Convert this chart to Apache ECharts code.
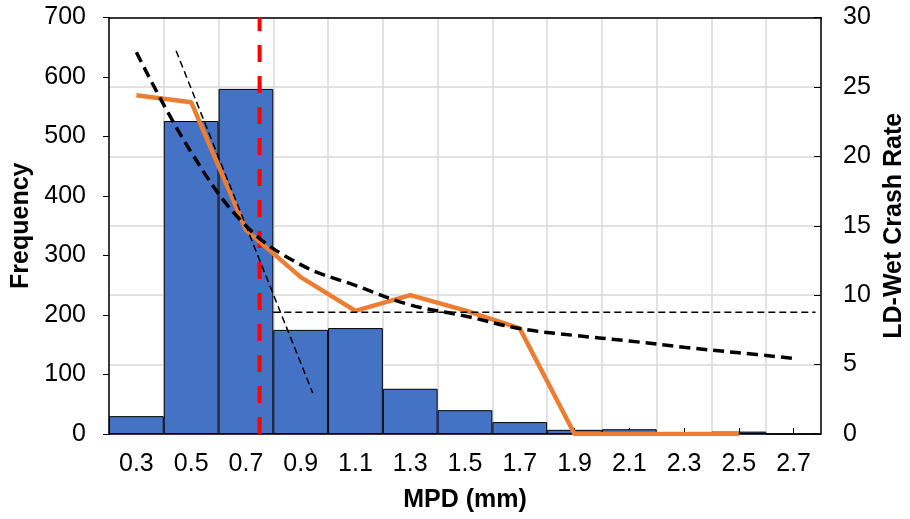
<!DOCTYPE html>
<html>
<head>
<meta charset="utf-8">
<script src="https://cdn.jsdelivr.net/npm/echarts@6/dist/echarts.min.js"></script>
<style>
html,body{margin:0;padding:0;background:#fff;}
#chart{width:910px;height:519px;}
</style>
</head>
<body>
<div id="chart"></div>
<script>
// ---- data ----
const categories = ['0.3','0.5','0.7','0.9','1.1','1.3','1.5','1.7','1.9','2.1','2.3','2.5','2.7'];
const frequency = [30, 526, 580, 175, 178, 76, 40, 20, 7, 8, 2, 4, 0];
const crashRate = [24.4, 23.9, 14.7, 11.3, 8.87, 10.0, 8.9, 7.6, 0, 0, 0, 0, null];
const powerTrend = [27.5, 20.3, 15.0, 12.2, 10.7, 9.3, 8.5, 7.6, 7.1, 6.7, 6.25, 5.85, 5.45];
const steepTrend = [[0.445, 27.6], [0.944, 2.95]];
const thresholdLine = [[0.80, 8.77], [2.78, 8.77]];
const mpdMarker = [[0.75, 0], [0.75, 30]];
const leftTicks = {min: 0, max: 700, interval: 100};
const rightTicks = {min: 0, max: 30, interval: 5};

const FONT = "'Liberation Sans', Arial, sans-serif";
const chart = echarts.init(document.getElementById('chart'), null, {renderer: 'canvas'});
chart.setOption({
  animation: false,
  backgroundColor: '#ffffff',
  grid: {left: 109, right: 89, top: 17.5, bottom: 85, containLabel: false, outerBoundsMode: 'none'},
  xAxis: [
    {
      type: 'category', data: categories, boundaryGap: true, position: 'bottom',
      name: 'MPD (mm)', nameLocation: 'middle', nameGap: 54,
      nameTextStyle: {fontFamily: FONT, fontWeight: 'bold', fontSize: 25, color: '#000'},
      axisLine: {show: true, lineStyle: {color: '#000', width: 1.5}},
      axisTick: {show: true, inside: true, alignWithLabel: true, length: 6, lineStyle: {color: '#000', width: 1}},
      axisLabel: {fontFamily: FONT, fontSize: 25, color: '#000', margin: 18},
      splitLine: {show: true, lineStyle: {color: '#d9d9d9', width: 1.5}}
    },
    {
      type: 'value', min: 0.2, max: 2.8, position: 'top',
      axisLine: {show: true, onZero: false, lineStyle: {color: '#000', width: 1.5}},
      axisTick: {show: false}, axisLabel: {show: false}, splitLine: {show: false}
    }
  ],
  yAxis: [
    {
      type: 'value', min: leftTicks.min, max: leftTicks.max, interval: leftTicks.interval, position: 'left',
      name: 'Frequency', nameLocation: 'middle', nameGap: 73, nameRotate: 90,
      nameTextStyle: {fontFamily: FONT, fontWeight: 'bold', fontSize: 25, color: '#000'},
      axisLine: {show: true, lineStyle: {color: '#000', width: 1.5}},
      axisTick: {show: true, inside: false, length: 6, lineStyle: {color: '#000', width: 1}},
      axisLabel: {fontFamily: FONT, fontSize: 25, color: '#000', margin: 23},
      splitLine: {show: false}
    },
    {
      type: 'value', min: rightTicks.min, max: rightTicks.max, interval: rightTicks.interval, position: 'right',
      name: 'LD-Wet Crash Rate', nameLocation: 'middle', nameGap: 61, nameRotate: 90,
      nameTextStyle: {fontFamily: FONT, fontWeight: 'bold', fontSize: 25, color: '#000'},
      axisLine: {show: true, lineStyle: {color: '#000', width: 1.5}},
      axisTick: {show: true, inside: true, length: 7, lineStyle: {color: '#000', width: 1}},
      axisLabel: {fontFamily: FONT, fontSize: 25, color: '#000', margin: 22},
      splitLine: {show: true, lineStyle: {color: '#d9d9d9', width: 1.5}}
    }
  ],
  series: [
    {
      type: 'bar', data: frequency, xAxisIndex: 0, yAxisIndex: 0,
      barCategoryGap: '0%', barGap: '0%',
      itemStyle: {color: '#4472C4', borderColor: '#000', borderWidth: 1}
    },
    {
      type: 'line', data: mpdMarker, xAxisIndex: 1, yAxisIndex: 1, symbol: 'none',
      lineStyle: {color: '#ff0000', width: 4, type: [17, 14]}
    },
    {
      type: 'line', data: crashRate, xAxisIndex: 0, yAxisIndex: 1, symbol: 'none',
      lineStyle: {color: '#ED7D31', width: 4.5}
    },
    {
      type: 'line', data: powerTrend, xAxisIndex: 0, yAxisIndex: 1, symbol: 'none', smooth: 0.4,
      lineStyle: {color: '#000', width: 3.5, type: [11, 6]}
    },
    {
      type: 'line', data: steepTrend, xAxisIndex: 1, yAxisIndex: 1, symbol: 'none',
      lineStyle: {color: '#000', width: 1.5, type: [7, 4]}
    },
    {
      type: 'line', data: thresholdLine, xAxisIndex: 1, yAxisIndex: 1, symbol: 'none',
      lineStyle: {color: '#000', width: 1.5, type: [7, 4]}
    }
  ]
});
</script>
</body>
</html>
